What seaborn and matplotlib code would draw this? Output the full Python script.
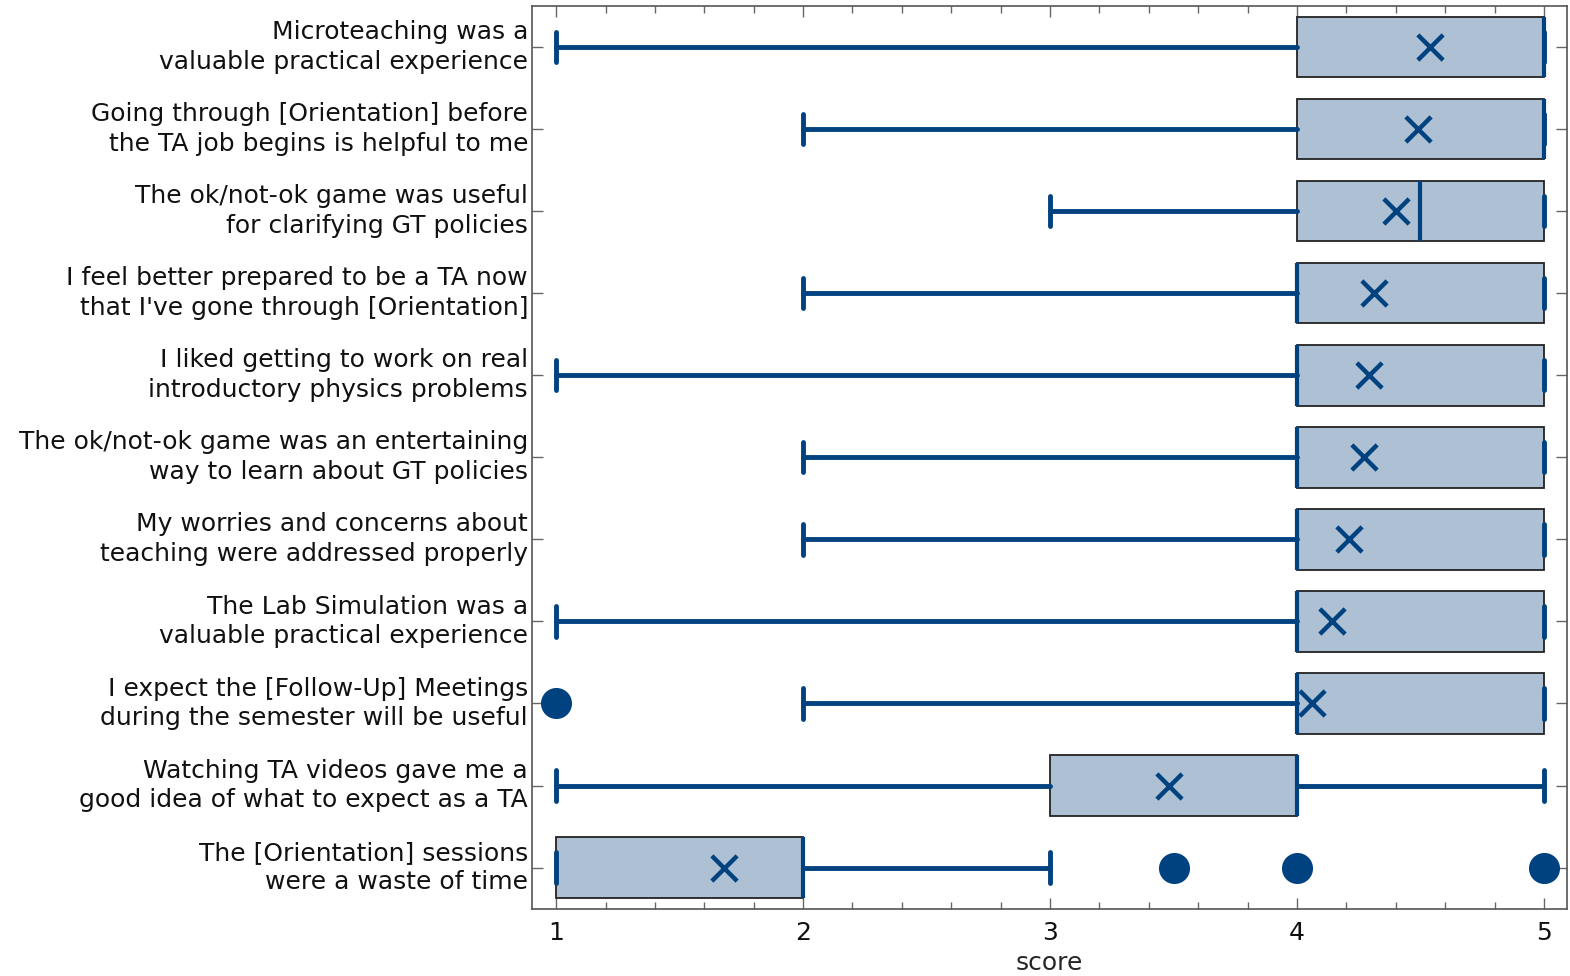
import numpy as np
import pandas as pd
import seaborn as sns
import matplotlib.pyplot as plt

# survey statements, top to bottom
questions = [
    "Microteaching was a\nvaluable practical experience",
    "Going through [Orientation] before\nthe TA job begins is helpful to me",
    "The ok/not-ok game was useful\nfor clarifying GT policies",
    "I feel better prepared to be a TA now\nthat I've gone through [Orientation]",
    "I liked getting to work on real\nintroductory physics problems",
    "The ok/not-ok game was an entertaining\nway to learn about GT policies",
    "My worries and concerns about\nteaching were addressed properly",
    "The Lab Simulation was a\nvaluable practical experience",
    "I expect the [Follow-Up] Meetings\nduring the semester will be useful",
    "Watching TA videos gave me a\ngood idea of what to expect as a TA",
    "The [Orientation] sessions\nwere a waste of time",
]
whis_low = [1, 2, 3, 2, 1, 2, 2, 1, 2, 1, 1]
q1 = [4, 4, 4, 4, 4, 4, 4, 4, 4, 3, 1]
median = [5, 5, 4.5, 4, 4, 4, 4, 4, 4, 4, 2]
q3 = [5, 5, 5, 5, 5, 5, 5, 5, 5, 4, 2]
whis_high = [5, 5, 5, 5, 5, 5, 5, 5, 5, 5, 3]
means = [4.54, 4.49, 4.40, 4.31, 4.29, 4.27, 4.21, 4.14, 4.06, 3.48, 1.68]
outliers = [[], [], [], [], [], [], [], [], [1], [], [3.5, 4, 5]]

blue = "#00417f"
fill = "#aec1d4"

sns.set_style("ticks")
plt.rcParams["font.family"] = ["DejaVu Sans"]

fig, ax = plt.subplots(figsize=(15.7, 9.76), dpi=100)
fig.subplots_adjust(left=0.339, right=0.998, top=0.994, bottom=0.069)

stats = []
for i, q in enumerate(questions):
    stats.append(dict(label=q, whislo=whis_low[i], q1=q1[i], med=median[i],
                      q3=q3[i], whishi=whis_high[i], fliers=[]))

ax.bxp(stats, positions=np.arange(len(questions)), widths=0.74,
       orientation="horizontal", patch_artist=True, showfliers=False,
       boxprops=dict(facecolor=fill, edgecolor="#222222", linewidth=1.3),
       medianprops=dict(color=blue, linewidth=3),
       whiskerprops=dict(color=blue, linewidth=3.5),
       capprops=dict(color=blue, linewidth=3.5), capwidths=0.37)

# means as crosses, outliers as filled dots
mean_df = pd.DataFrame({"score": means, "pos": np.arange(len(questions))})
sns.scatterplot(data=mean_df, x="score", y="pos", marker="x", s=330,
                color=blue, linewidth=3.2, ax=ax, zorder=5)

out_rows = [(v, i) for i, vals in enumerate(outliers) for v in vals]
out_df = pd.DataFrame(out_rows, columns=["score", "pos"])
sns.scatterplot(data=out_df, x="score", y="pos", marker="o", s=500,
                color=blue, edgecolor=blue, linewidth=0, ax=ax, zorder=5)

ax.set_xlim(0.903, 5.093)
ax.set_ylim(10.5, -0.5)
ax.set_yticks(np.arange(len(questions)))
ax.set_yticklabels(questions, fontsize=18, color="#111111")
plt.setp(ax.get_yticklabels(), linespacing=1.3, va="center")
ax.set_xticks([1, 2, 3, 4, 5])
ax.set_xticks(np.arange(1, 5.01, 0.2), minor=True)
ax.tick_params(axis="x", labelsize=18, labelcolor="#111111", pad=9)
ax.tick_params(axis="y", pad=3)
ax.tick_params(which="both", direction="in", top=True, right=True,
               color="#666666", width=1)
ax.tick_params(which="major", length=8)
ax.tick_params(which="minor", length=5)
ax.tick_params(axis="y", which="minor", left=False, right=False)
ax.set_xlabel("score", fontsize=18, labelpad=4)
ax.set_ylabel("")
for s in ax.spines.values():
    s.set_color("#555555")
    s.set_linewidth(1.2)

fig.savefig("out.png", dpi=100)
